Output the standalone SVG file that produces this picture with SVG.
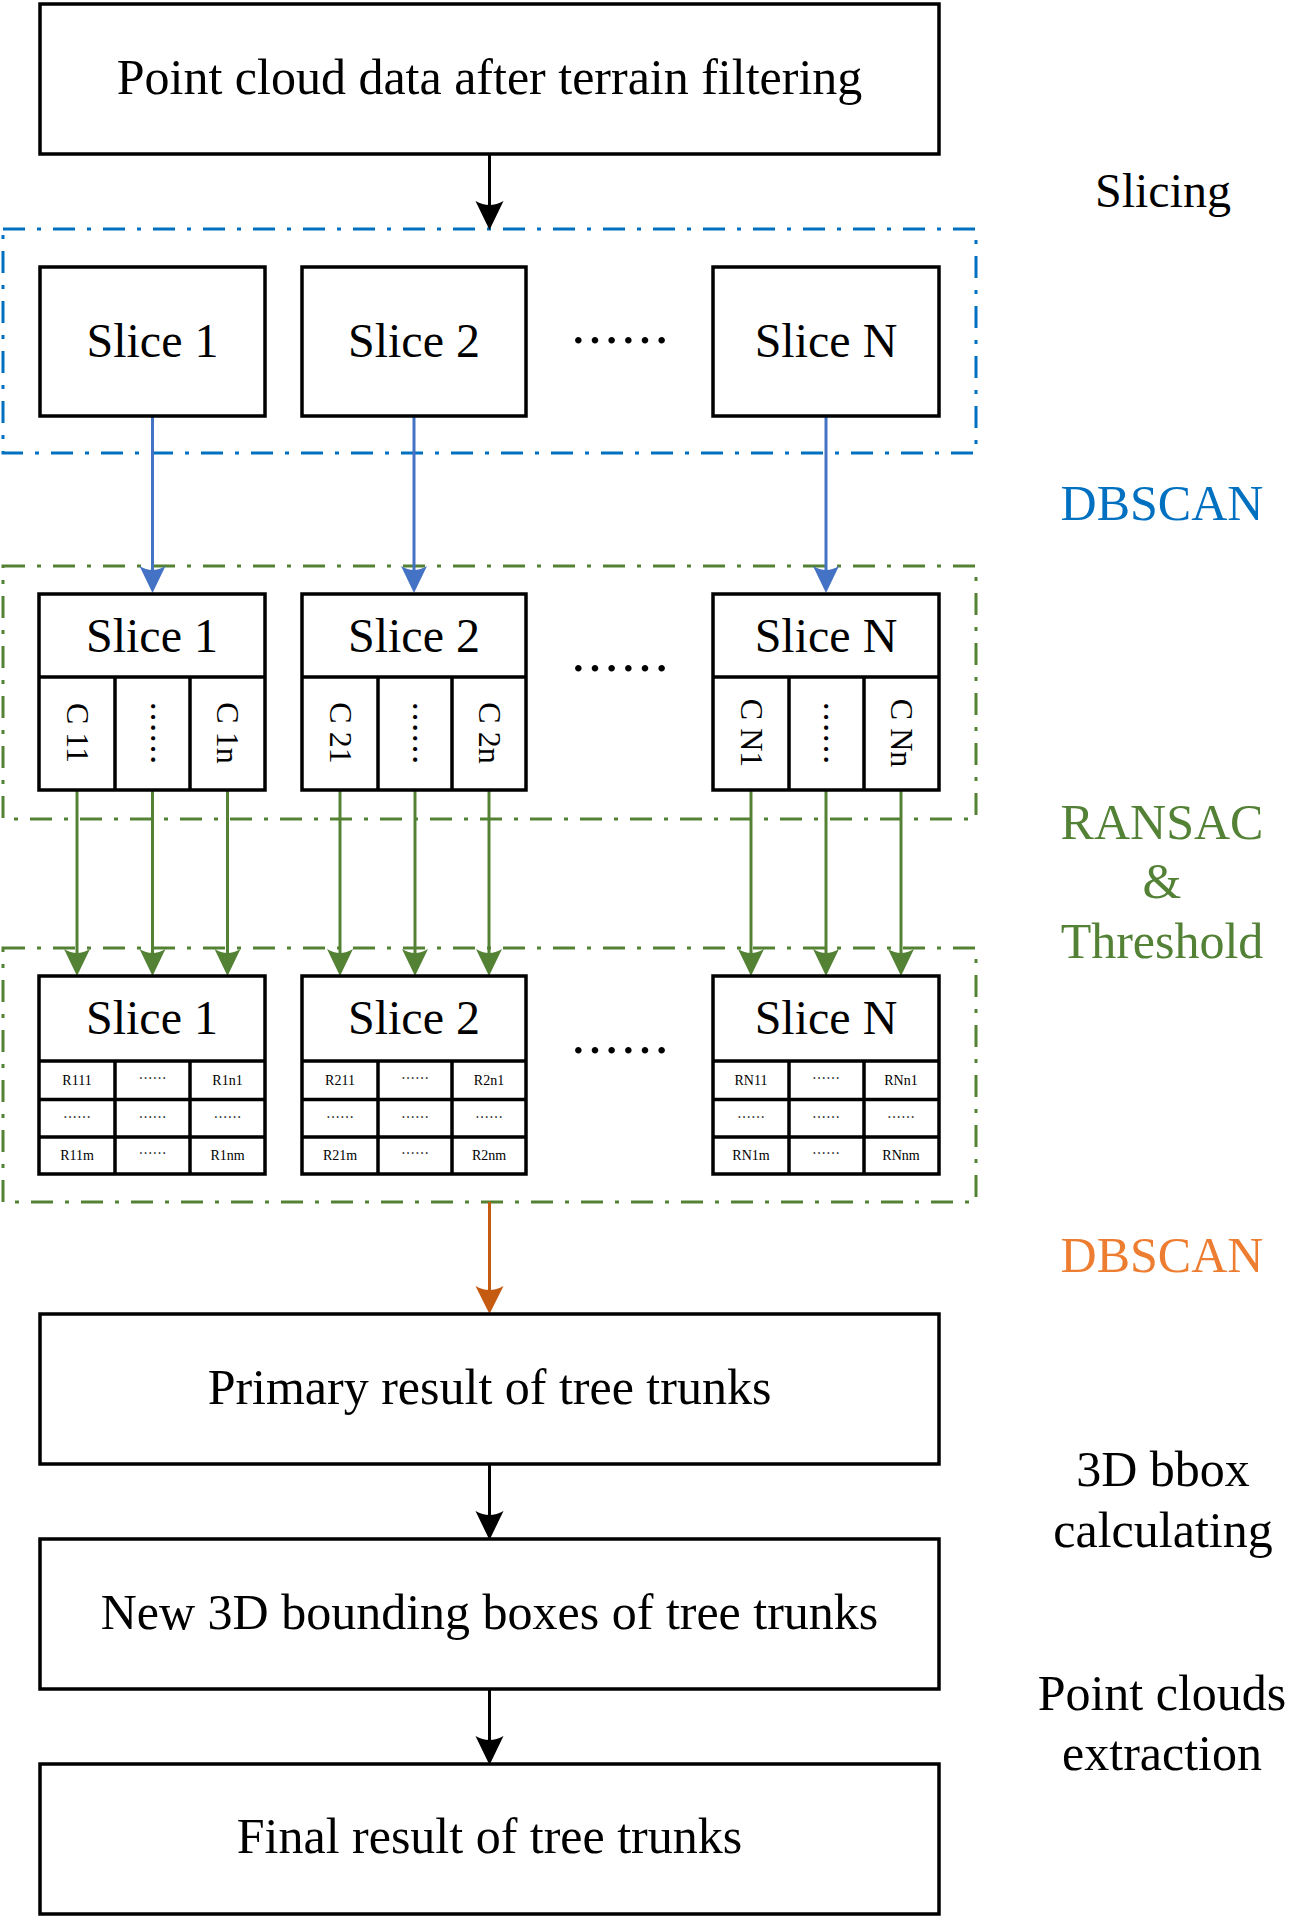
<svg xmlns="http://www.w3.org/2000/svg" width="1313" height="1918" viewBox="0 0 1313 1918">
<style>
.bg{fill:#fff}
.box{fill:#fff;stroke:#000;stroke-width:3.5}
.div{stroke:#000;stroke-width:3.5;fill:none}
.t{font-family:"Liberation Serif","Times New Roman",serif;text-anchor:middle;fill:#000}
.big{font-size:50px}
.sl{font-size:48px}
.vt{font-size:32px}
.sm{font-size:14px}
.dots{font-family:"Noto Sans CJK SC","Liberation Serif",serif;text-anchor:middle;fill:#000}
.grpB{fill:none;stroke:#0070C0;stroke-width:3;stroke-dasharray:22 12 4 12}
.grpG{fill:none;stroke:#548235;stroke-width:3;stroke-dasharray:22 12 4 12}
.cK{stroke:#000;stroke-width:3;fill:none;marker-end:url(#aK)}
.cB{stroke:#4472C4;stroke-width:3;fill:none;marker-end:url(#aB)}
.cG{stroke:#548235;stroke-width:3;fill:none;marker-end:url(#aG)}
.cO{stroke:#C55A11;stroke-width:3;fill:none;marker-end:url(#aO)}
</style>
<defs>
<marker id="aK" markerUnits="userSpaceOnUse" markerWidth="30" markerHeight="30" viewBox="0 -15 30 30" refX="8" refY="0" orient="auto"><path d="M29,0 L0,-14 Q8,0 0,14 Z" fill="#000"/></marker>
<marker id="aB" markerUnits="userSpaceOnUse" markerWidth="30" markerHeight="30" viewBox="0 -15 30 30" refX="8" refY="0" orient="auto"><path d="M27,0 L0,-13 Q8,0 0,13 Z" fill="#4472C4"/></marker>
<marker id="aG" markerUnits="userSpaceOnUse" markerWidth="30" markerHeight="30" viewBox="0 -15 30 30" refX="8" refY="0" orient="auto"><path d="M27,0 L0,-13 Q8,0 0,13 Z" fill="#548235"/></marker>
<marker id="aO" markerUnits="userSpaceOnUse" markerWidth="30" markerHeight="30" viewBox="0 -15 30 30" refX="8" refY="0" orient="auto"><path d="M28,0 L0,-14 Q8,0 0,14 Z" fill="#C55A11"/></marker>
</defs>
<rect class="bg" x="0" y="0" width="1313" height="1918"/>

<g id="groups">
<rect class="grpB" x="3" y="229" width="973" height="224"/>
<rect class="grpG" x="3" y="566" width="973" height="253"/>
<rect class="grpG" x="3" y="948" width="973" height="254"/>
</g>

<g id="connectors">
<path class="cK" d="M489.5,154 V209"/>
<path class="cB" d="M152.5,416 V574"/>
<path class="cB" d="M414,416 V574"/>
<path class="cB" d="M826,416 V574"/>
<path class="cG" d="M77,790 V957"/>
<path class="cG" d="M152.5,790 V957"/>
<path class="cG" d="M227.5,790 V957"/>
<path class="cG" d="M340,790 V957"/>
<path class="cG" d="M415,790 V957"/>
<path class="cG" d="M489,790 V957"/>
<path class="cG" d="M751,790 V957"/>
<path class="cG" d="M826,790 V957"/>
<path class="cG" d="M901,790 V957"/>
<path class="cO" d="M489.5,1202 V1294"/>
<path class="cK" d="M489.5,1464 V1519"/>
<path class="cK" d="M489.5,1689 V1744"/>
</g>

<g id="n-input">
<rect class="box" x="40" y="4" width="899" height="150"/>
<text class="t big" x="489.5" y="94">Point cloud data after terrain filtering</text>
</g>

<g id="n-slice1">
<rect class="box" x="40" y="267" width="225" height="149"/>
<text class="t sl" x="152.5" y="357">Slice 1</text>
</g>
<g id="n-slice2">
<rect class="box" x="302" y="267" width="224" height="149"/>
<text class="t sl" x="414" y="357">Slice 2</text>
</g>
<g id="n-dots1"><text class="dots" style="font-size:50px" x="620" y="359">……</text></g>
<g id="n-sliceN">
<rect class="box" x="713" y="267" width="226" height="149"/>
<text class="t sl" x="826" y="357">Slice N</text>
</g>

<g id="n-c1">
<rect class="box" x="39" y="594" width="226" height="196"/>
<path class="div" d="M39,677 H265 M115,677 V790 M190,677 V790"/>
<text class="t sl" x="152" y="652">Slice 1</text>
<text class="t vt" transform="translate(77,733) rotate(90)" y="10.5">C 11</text>
<text class="dots" style="font-size:32px" transform="translate(152.5,733) rotate(90)" y="12">……</text>
<text class="t vt" transform="translate(227.5,733) rotate(90)" y="10.5">C 1n</text>
</g>
<g id="n-c2">
<rect class="box" x="302" y="594" width="224" height="196"/>
<path class="div" d="M302,677 H526 M378,677 V790 M452,677 V790"/>
<text class="t sl" x="414" y="652">Slice 2</text>
<text class="t vt" transform="translate(340,733) rotate(90)" y="10.5">C 21</text>
<text class="dots" style="font-size:32px" transform="translate(415,733) rotate(90)" y="12">……</text>
<text class="t vt" transform="translate(489,733) rotate(90)" y="10.5">C 2n</text>
</g>
<g id="n-dots2"><text class="dots" style="font-size:50px" x="620" y="687">……</text></g>
<g id="n-cN">
<rect class="box" x="713" y="594" width="226" height="196"/>
<path class="div" d="M713,677 H939 M789,677 V790 M864,677 V790"/>
<text class="t sl" x="826" y="652">Slice N</text>
<text class="t vt" transform="translate(751,733) rotate(90)" y="10.5">C N1</text>
<text class="dots" style="font-size:32px" transform="translate(826,733) rotate(90)" y="12">……</text>
<text class="t vt" transform="translate(901,733) rotate(90)" y="10.5">C Nn</text>
</g>

<g id="n-r1">
<rect class="box" x="39" y="976" width="226" height="198"/>
<path class="div" d="M39,1061 H265 M39,1099.5 H265 M39,1137 H265 M115,1061 V1174 M190,1061 V1174"/>
<text class="t sl" x="152" y="1034">Slice 1</text>
<text class="t sm" x="77" y="1085">R111</text>
<text class="dots sm" x="152.5" y="1083">……</text>
<text class="t sm" x="227.5" y="1085">R1n1</text>
<text class="dots sm" x="77" y="1122">……</text>
<text class="dots sm" x="152.5" y="1122">……</text>
<text class="dots sm" x="227.5" y="1122">……</text>
<text class="t sm" x="77" y="1160">R11m</text>
<text class="dots sm" x="152.5" y="1158">……</text>
<text class="t sm" x="227.5" y="1160">R1nm</text>
</g>
<g id="n-r2">
<rect class="box" x="302" y="976" width="224" height="198"/>
<path class="div" d="M302,1061 H526 M302,1099.5 H526 M302,1137 H526 M378,1061 V1174 M452,1061 V1174"/>
<text class="t sl" x="414" y="1034">Slice 2</text>
<text class="t sm" x="340" y="1085">R211</text>
<text class="dots sm" x="415" y="1083">……</text>
<text class="t sm" x="489" y="1085">R2n1</text>
<text class="dots sm" x="340" y="1122">……</text>
<text class="dots sm" x="415" y="1122">……</text>
<text class="dots sm" x="489" y="1122">……</text>
<text class="t sm" x="340" y="1160">R21m</text>
<text class="dots sm" x="415" y="1158">……</text>
<text class="t sm" x="489" y="1160">R2nm</text>
</g>
<g id="n-dots3"><text class="dots" style="font-size:50px" x="620" y="1069">……</text></g>
<g id="n-rN">
<rect class="box" x="713" y="976" width="226" height="198"/>
<path class="div" d="M713,1061 H939 M713,1099.5 H939 M713,1137 H939 M789,1061 V1174 M864,1061 V1174"/>
<text class="t sl" x="826" y="1034">Slice N</text>
<text class="t sm" x="751" y="1085">RN11</text>
<text class="dots sm" x="826" y="1083">……</text>
<text class="t sm" x="901" y="1085">RNn1</text>
<text class="dots sm" x="751" y="1122">……</text>
<text class="dots sm" x="826" y="1122">……</text>
<text class="dots sm" x="901" y="1122">……</text>
<text class="t sm" x="751" y="1160">RN1m</text>
<text class="dots sm" x="826" y="1158">……</text>
<text class="t sm" x="901" y="1160">RNnm</text>
</g>

<g id="n-primary">
<rect class="box" x="40" y="1314" width="899" height="150"/>
<text class="t big" x="489.5" y="1404">Primary result of tree trunks</text>
</g>
<g id="n-bbox">
<rect class="box" x="40" y="1539" width="899" height="150"/>
<text class="t big" x="489.5" y="1629">New 3D bounding boxes of tree trunks</text>
</g>
<g id="n-final">
<rect class="box" x="40" y="1764" width="899" height="150"/>
<text class="t big" x="489.5" y="1853">Final result of tree trunks</text>
</g>

<g id="labels">
<text class="t" style="font-size:48px" x="1163" y="207">Slicing</text>
<text class="t big" style="fill:#0070C0" x="1162" y="520">DBSCAN</text>
<text class="t big" style="fill:#538135" x="1162" y="839">RANSAC</text>
<text class="t big" style="fill:#538135" x="1162" y="898">&amp;</text>
<text class="t big" style="fill:#538135" x="1162" y="958">Threshold</text>
<text class="t big" style="fill:#ED7D31" x="1162" y="1272">DBSCAN</text>
<text class="t big" x="1163" y="1486">3D bbox</text>
<text class="t big" x="1163" y="1547">calculating</text>
<text class="t big" x="1162" y="1710">Point clouds</text>
<text class="t big" x="1162" y="1770">extraction</text>
</g>
</svg>
